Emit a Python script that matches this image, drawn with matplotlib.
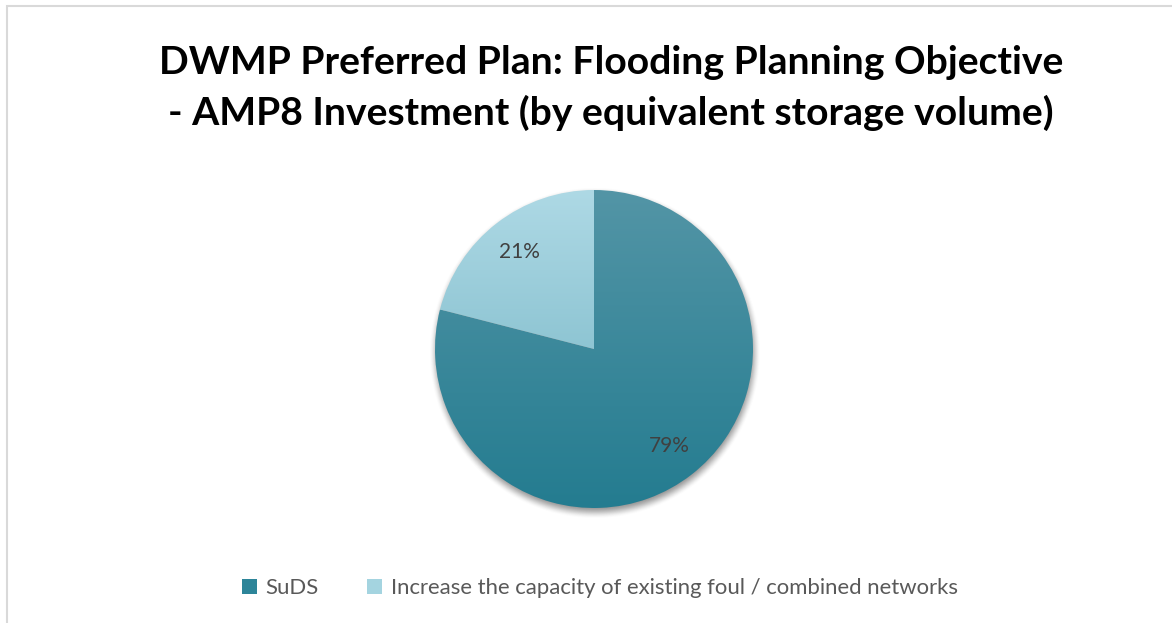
"""
Pie chart of the AMP8 flooding investment split by equivalent storage volume.
"""
import numpy as np
import matplotlib
matplotlib.use("Agg")
import matplotlib.pyplot as plt
from matplotlib.patches import Patch, Rectangle

categories = ["SuDS", "Increase the capacity of existing foul / combined networks"]
shares = [79, 21]
title = "DWMP Preferred Plan: Flooding Planning Objective\n- AMP8 Investment (by equivalent storage volume)"

# top / bottom colours of each slice's vertical gradient
grad_top = ["#5395a6", "#aed9e5"]
grad_bottom = ["#247c90", "#8ec5d3"]
legend_colors = ["#2d8599", "#a4d4e0"]

W, H = 1172, 623
fig = plt.figure(figsize=(W / 100, H / 100), dpi=100)
fig.patch.set_facecolor("white")

# light grey chart border (only top and left fall inside the picture)
fig.add_artist(Rectangle((7 / W, -0.1), 1.2, 1 - 6 / H + 0.1, transform=fig.transFigure,
                         fill=False, edgecolor="#d9d9d9", linewidth=1.5))

fig.text(611 / W, 1 - 88 / H, title, ha="center", va="center", fontsize=28.2,
         fontweight="bold", family="Lato", linespacing=1.52, color="black")

# pie axes: radius 1 -> 159 px
R = 159
half = 200
cx, cy = 594, H - 349
ax = fig.add_axes([(cx - half) / W, (cy - half) / H, 2 * half / W, 2 * half / H])
lim = half / R

# soft drop shadow
n = 500
gx, gy = np.meshgrid(np.linspace(-lim, lim, n), np.linspace(-lim, lim, n))
d = np.hypot(gx - 0.006, gy + 0.025)
edge = np.clip((1.045 - d) / 0.08, 0, 1)
edge = edge * edge * (3 - 2 * edge)
shadow = np.zeros((n, n, 4))
shadow[..., :3] = 0.3
shadow[..., 3] = 0.6 * edge
ax.imshow(shadow, extent=[-lim, lim, -lim, lim], origin="lower", zorder=0,
          interpolation="bilinear")

wedges, texts, autotexts = ax.pie(shares, startangle=90, counterclock=False,
                                  autopct="%1.0f%%", pctdistance=0.77,
                                  radius=1, frame=True,
                                  textprops=dict(color="#404040", fontsize=15, family="Lato"))

for i, w in enumerate(wedges):
    w.set_facecolor("none")
    w.set_edgecolor("none")
    bb = w.get_path().get_extents(w.get_patch_transform())
    y0, y1 = bb.y0, bb.y1
    t = np.linspace(0, 1, 256)[:, None]
    c0 = np.array(matplotlib.colors.to_rgb(grad_bottom[i]))
    c1 = np.array(matplotlib.colors.to_rgb(grad_top[i]))
    img = (c0 + (c1 - c0) * t)[:, None, :].repeat(2, axis=1)
    im = ax.imshow(img, extent=[-1.01, 1.01, y0, y1], origin="lower", zorder=1,
                   aspect="auto", interpolation="bilinear")
    im.set_clip_path(w)
for t_ in autotexts:
    t_.set_zorder(3)

ax.set_xlim(-lim, lim)
ax.set_ylim(-lim, lim)
ax.set_aspect("equal")
ax.axis("off")

handles = [Patch(facecolor=c, edgecolor="none") for c in legend_colors]
fig.legend(handles, categories, loc="center", bbox_to_anchor=(600 / W, 35 / H),
           ncol=2, frameon=False, handlelength=0.65, handleheight=0.65, handletextpad=0.4,
           columnspacing=2.2, prop=dict(family="Lato", size=15.9), labelcolor="#595959")

fig.savefig("out.png", dpi=100, facecolor="white")
